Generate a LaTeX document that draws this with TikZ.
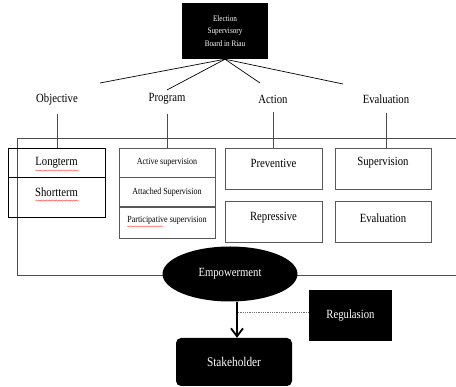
\documentclass[tikz,border=0pt]{standalone}
\usepackage{fontspec}
\usepackage{graphicx}
\setmainfont{Liberation Serif}
\usetikzlibrary{shapes.geometric,arrows.meta,decorations.pathmorphing}

\newcommand{\tx}[1]{\scalebox{1}[1.17]{#1}}

\begin{document}
\begin{tikzpicture}[x=1pt,y=-1pt,
	every node/.style={inner sep=0pt,font=\fontsize{10.7}{12}\selectfont},
	box/.style={draw=black!65,line width=0.6pt,minimum width=96pt},
	small/.style={font=\fontsize{8}{9}\selectfont},
	dark/.style={fill=black,text=white},
	bus/.style={draw=black!70,line width=0.6pt},
	squiggle/.style={draw=red!75,line width=0.4pt,decorate,decoration={snake,amplitude=0.6pt,segment length=2.5pt}}]

	\useasboundingbox (0,0) rectangle (456,387);

	% board
	\node[dark,minimum width=86pt,minimum height=56pt,align=center,font=\fontsize{7.2}{12.5}\selectfont] (board) at (225,31) {\tx{Election}\\\tx{Supervisory}\\\tx{Board in Riau}};

	% branches
	\node (obj)  at (57,99)  {\tx{Objective}};
	\node (prog) at (167,99) {\tx{Program}};
	\node (act)  at (273,99) {\tx{Action}};
	\node (eval) at (386,99) {\tx{Evaluation}};

	\coordinate (objend)  at (100,83);
	\coordinate (progend) at (167,90);
	\coordinate (actend)  at (260,83);
	\coordinate (evalend) at (343,84);

	\draw[line width=0.7pt] (board.south) -- (objend);
	\draw[line width=0.7pt] (board.south) -- (progend);
	\draw[line width=0.7pt] (board.south) -- (actend);
	\draw[line width=0.7pt] (board.south) -- (evalend);

	% frame
	\coordinate (nw) at (17,138);
	\coordinate (ne) at (456,138);
	\coordinate (sw) at (17,275);
	\coordinate (se) at (456,275);
	\draw[bus] (ne) -- (nw) -- (sw) -- (se);

	% objective
	\node[box,draw=black,minimum width=97pt,minimum height=29pt] (long) at (56.5,162.5) {\tx{Longterm}};
	\node[box,draw=black,minimum width=97pt,minimum height=40pt,anchor=north,
		label={[name=shorttxt,yshift=5pt]center:\tx{Shortterm}}] (short) at (long.south) {};

	% program
	\node[box,small,minimum height=29pt] (active) at (167,162.5) {\tx{Active supervision}};
	\node[box,small,minimum height=29pt,anchor=north] (attached) at (active.south) {\tx{Attached Supervision}};
	\node[box,small,minimum height=31pt,anchor=north,
		label={[name=partictxt,small,yshift=2pt]center:\tx{Participative supervision}}] (partic) at (attached.south) {};

	% action
	\node[box,minimum width=97pt,minimum height=41pt,label={[yshift=5.5pt]center:\tx{Preventive}}] (prev) at (273.5,168.5) {};
	\node[box,minimum width=97pt,minimum height=41pt,label={[yshift=3.5pt]center:\tx{Repressive}}] (repr) at (273.5,221.5) {};

	% evaluation
	\node[box,minimum height=41pt,label={[yshift=5.5pt]center:\tx{Supervision}}] (sup) at (383,168.5) {};
	\node[box,minimum height=41pt,label={[yshift=3.5pt]center:\tx{Evaluation}}] (evalb) at (383,221.5) {};

	% stems
	\draw[bus] ([yshift=-9pt]obj.south) -- (obj.south |- long.north);
	\draw[bus] ([yshift=-9pt]prog.south) -- (prog.south |- active.north);
	\draw[bus] ([yshift=-9pt]act.south) -- (act.south |- prev.north);
	\draw[bus] ([yshift=-9pt]eval.south) -- (eval.south |- sup.north);

	% spelling marks
	\draw[squiggle] ([xshift=-21pt,yshift=-8pt]long.center) -- ++(43,0);
	\draw[squiggle] ([xshift=-21pt,yshift=-8pt]shorttxt.center) -- ++(43,0);
	\draw[squiggle] ([yshift=-1.5pt]partictxt.south west) -- ++(36,0);

	% bottom
	\node[dark,ellipse,minimum width=135pt,minimum height=55pt] (emp) at (230,274) {\tx{Empowerment}};
	\node[dark,minimum width=83pt,minimum height=51pt] (reg) at (350.5,315.5) {\tx{Regulasion}};
	\node[dark,rounded corners=5pt,minimum width=116pt,minimum height=48pt,font=\fontsize{11.3}{12}\selectfont] (stake) at (234,362) {\tx{Stakeholder}};

	\coordinate (tail) at ([xshift=7pt]emp.south);
	\draw[line width=1.8pt,-{Straight Barb[length=8pt,width=12pt]}] (tail) -- ([xshift=3pt]stake.north);
	\draw[densely dotted,black!55,line width=0.8pt] ([yshift=3.5pt]reg.west) -- ([yshift=3.5pt]reg.west -| tail);

\end{tikzpicture}
\end{document}
